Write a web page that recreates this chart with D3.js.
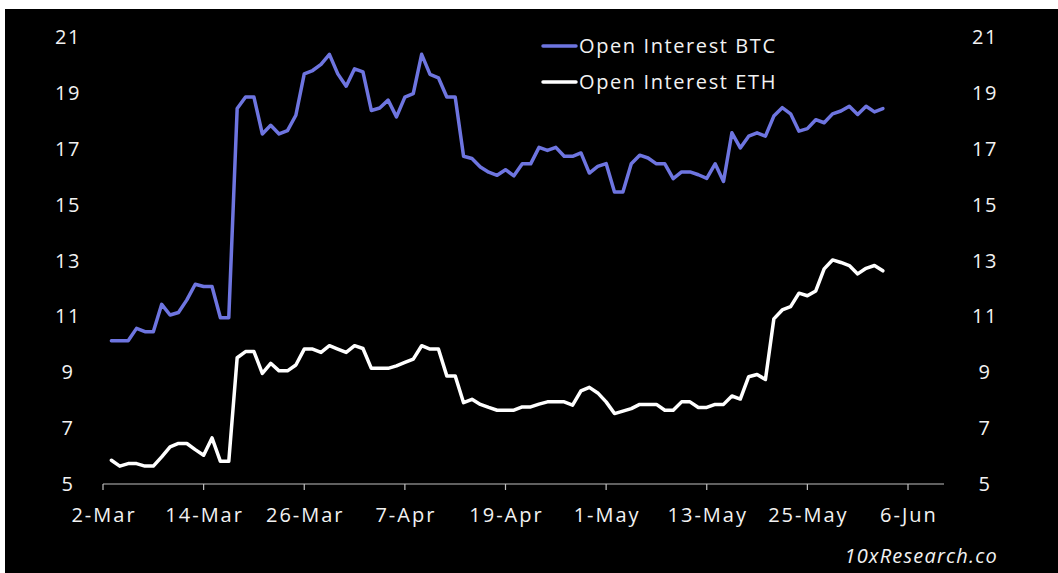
<!DOCTYPE html>
<html>
<head>
<meta charset="utf-8">
<script src="https://cdn.jsdelivr.net/npm/d3@7"></script>
<style>
  html, body { margin: 0; padding: 0; background: #ffffff; }
  svg { display: block; }
  text { font-family: "Open Sans", "Noto Sans", sans-serif; }
</style>
</head>
<body>
<svg id="chart" width="1058" height="573"></svg>
<script>
// Daily open interest (billions USD), 3-Mar through 3-Jun
const startDate = new Date(2024, 2, 3);
const btcValues = [
  10.13, 10.13, 10.13, 10.57, 10.45, 10.45, 11.43, 11.05, 11.14, 11.59,
  12.15, 12.07, 12.07, 10.95, 10.95, 18.44, 18.85, 18.85, 17.53, 17.84,
  17.53, 17.65, 18.20, 19.68, 19.80, 20.02, 20.38, 19.68, 19.24, 19.86,
  19.75, 18.37, 18.46, 18.74, 18.14, 18.85, 18.97, 20.38, 19.66, 19.54,
  18.85, 18.85, 16.73, 16.65, 16.35, 16.16, 16.05, 16.25, 16.03, 16.46,
  16.46, 17.05, 16.94, 17.05, 16.73, 16.73, 16.85, 16.13, 16.37, 16.47,
  15.45, 15.45, 16.46, 16.77, 16.67, 16.46, 16.46, 15.93, 16.17, 16.17,
  16.07, 15.94, 16.46, 15.83, 17.57, 17.03, 17.45, 17.57, 17.45, 18.17,
  18.47, 18.25, 17.63, 17.72, 18.04, 17.93, 18.25, 18.35, 18.52, 18.23,
  18.52, 18.32, 18.44
];
const ethValues = [
  5.85, 5.64, 5.73, 5.73, 5.64, 5.64, 5.97, 6.33, 6.45, 6.45,
  6.23, 6.03, 6.65, 5.81, 5.81, 9.52, 9.74, 9.74, 8.96, 9.32,
  9.05, 9.05, 9.26, 9.83, 9.83, 9.71, 9.95, 9.83, 9.71, 9.95,
  9.85, 9.14, 9.14, 9.14, 9.23, 9.35, 9.47, 9.95, 9.83, 9.83,
  8.87, 8.87, 7.91, 8.03, 7.85, 7.74, 7.64, 7.64, 7.64, 7.76,
  7.76, 7.86, 7.94, 7.94, 7.94, 7.82, 8.33, 8.46, 8.26, 7.94,
  7.52, 7.61, 7.70, 7.85, 7.85, 7.85, 7.64, 7.64, 7.94, 7.94,
  7.74, 7.74, 7.85, 7.85, 8.15, 8.04, 8.84, 8.92, 8.74, 10.91,
  11.23, 11.35, 11.83, 11.74, 11.91, 12.70, 13.02, 12.93, 12.82, 12.52,
  12.72, 12.82, 12.63
];
const yTicks = [5, 7, 9, 11, 13, 15, 17, 19, 21];
const xTickLabels = ["2-Mar", "14-Mar", "26-Mar", "7-Apr", "19-Apr", "1-May", "13-May", "25-May", "6-Jun"];
const seriesNames = ["Open Interest BTC", "Open Interest ETH"];
const seriesColors = ["#6e75e0", "#ffffff"];

const dates = btcValues.map((_, i) => d3.timeDay.offset(startDate, i));
const tickDates = xTickLabels.map((_, i) => d3.timeDay.offset(new Date(2024, 2, 2), i * 12));

const svg = d3.select("#chart");

// dark panel
svg.append("rect")
  .attr("x", 5).attr("y", 9)
  .attr("width", 1053).attr("height", 564)
  .attr("fill", "#000000");

const x = d3.scaleTime()
  .domain([tickDates[0], tickDates[tickDates.length - 1]])
  .range([103, 908]);
const y = d3.scaleLinear().domain([5, 21]).range([484, 37]);

// bottom axis
const axisEnd = 944;
const xAxisG = svg.append("g").attr("transform", `translate(0,${y(5)})`);
xAxisG.append("line")
  .attr("x1", x(tickDates[0])).attr("x2", axisEnd)
  .attr("stroke", "#bfbfbf").attr("stroke-width", 1.2);
xAxisG.selectAll("line.tick")
  .data(tickDates)
  .join("line")
  .attr("class", "tick")
  .attr("x1", d => x(d)).attr("x2", d => x(d))
  .attr("y1", 0).attr("y2", 6)
  .attr("stroke", "#bfbfbf").attr("stroke-width", 1.2);
xAxisG.selectAll("text")
  .data(tickDates)
  .join("text")
  .attr("x", d => x(d) + 1)
  .attr("y", 38)
  .attr("text-anchor", "middle")
  .attr("fill", "#f2f2f2")
  .attr("font-size", 20)
  .attr("letter-spacing", 2)
  .text((d, i) => xTickLabels[i]);

// left and right value labels
[67, 984].forEach(cx => {
  svg.append("g").selectAll("text")
    .data(yTicks)
    .join("text")
    .attr("x", cx + 1)
    .attr("y", d => y(d))
    .attr("dy", "0.35em")
    .attr("text-anchor", "middle")
    .attr("fill", "#f2f2f2")
    .attr("font-size", 20)
    .attr("letter-spacing", 1.5)
    .text(d => d);
});

// series lines
const line = d3.line()
  .x((d, i) => x(dates[i]))
  .y(d => y(d));

[btcValues, ethValues].forEach((vals, k) => {
  svg.append("path")
    .datum(vals)
    .attr("d", line)
    .attr("fill", "none")
    .attr("stroke", seriesColors[k])
    .attr("stroke-width", 3.5)
    .attr("stroke-linejoin", "round")
    .attr("stroke-linecap", "round");
});

// legend
const legend = svg.append("g");
seriesNames.forEach((name, k) => {
  const ly = 46 + k * 36;
  legend.append("line")
    .attr("x1", 543).attr("x2", 576)
    .attr("y1", ly).attr("y2", ly)
    .attr("stroke", seriesColors[k])
    .attr("stroke-width", 3.5)
    .attr("stroke-linecap", "round");
  legend.append("text")
    .attr("x", 579).attr("y", ly)
    .attr("dy", "0.35em")
    .attr("fill", "#f2f2f2")
    .attr("font-size", 20)
    .attr("letter-spacing", 1.6)
    .text(name);
});

// source tag
svg.append("text")
  .attr("x", 998).attr("y", 563)
  .attr("text-anchor", "end")
  .attr("fill", "#f2f2f2")
  .attr("font-size", 20)
  .attr("font-style", "italic")
  .attr("letter-spacing", 1.2)
  .text("10xResearch.co");
</script>
</body>
</html>
